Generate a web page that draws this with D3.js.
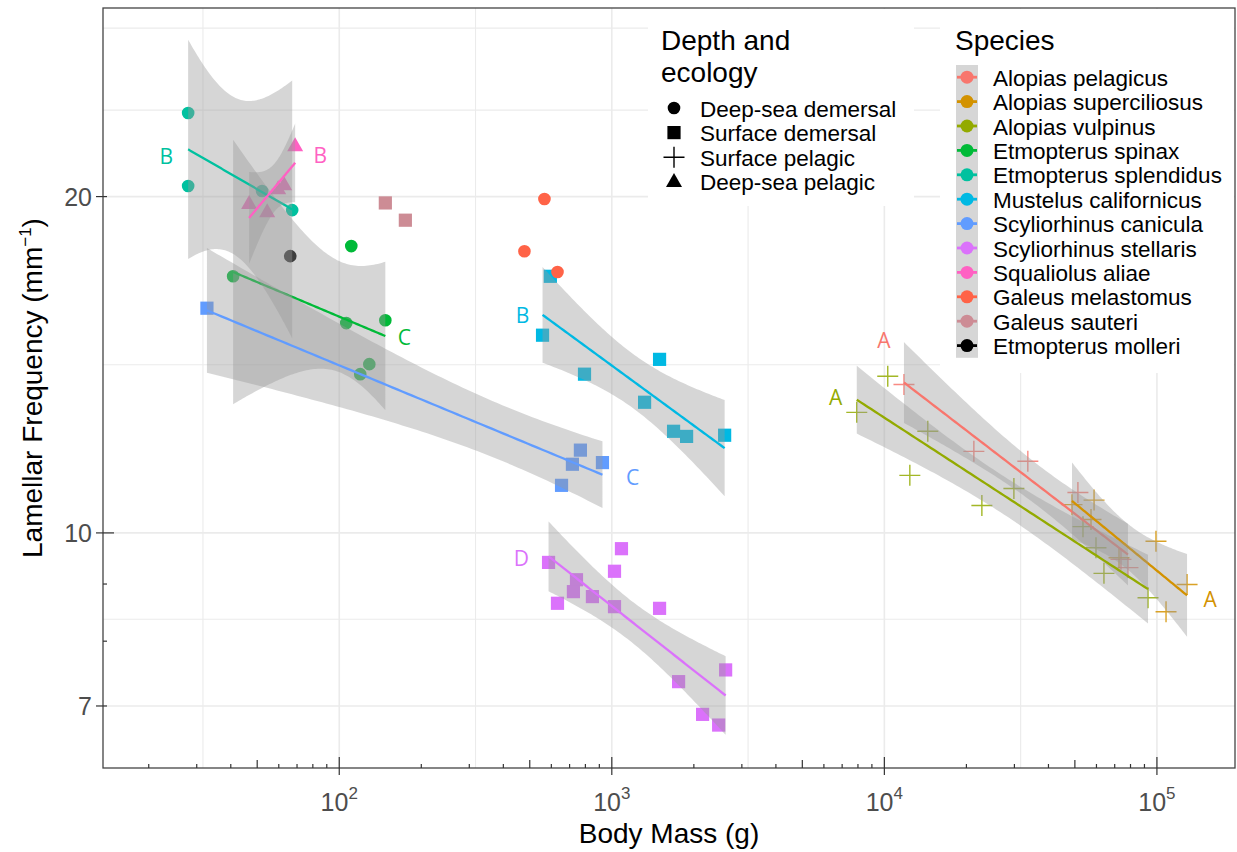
<!DOCTYPE html>
<html><head><meta charset="utf-8">
<script src="https://cdn.jsdelivr.net/npm/d3@7"></script>
<style>body{margin:0;background:#fff}</style>
</head><body><svg id="c" width="1237" height="852"></svg>
<script>
// ---------------- DATA ----------------
const speciesNames = ["Alopias pelagicus","Alopias superciliosus","Alopias vulpinus","Etmopterus spinax","Etmopterus splendidus","Mustelus californicus","Scyliorhinus canicula","Scyliorhinus stellaris","Squaliolus aliae","Galeus melastomus","Galeus sauteri","Etmopterus molleri"];
const speciesColors = ["#F8766D","#D39200","#93AA00","#00BA38","#00C19F","#00B9E3","#619CFF","#DB72FB","#FF61C3","#FF6347","#CD8C95","#000000"];
const ecologyNames = ["Deep-sea demersal","Surface demersal","Surface pelagic","Deep-sea pelagic"];
const speciesEcology = ["Surface pelagic","Surface pelagic","Surface pelagic","Deep-sea demersal","Deep-sea demersal","Surface demersal","Surface demersal","Surface demersal","Deep-sea pelagic","Deep-sea demersal","Surface demersal","Deep-sea demersal"];

const pelagicusMass = [11800, 21300, 33600, 51300, 73800, 78300];
const pelagicusFreq = [13.58, 11.83, 11.59, 10.87, 9.47, 9.31];
const superciliosusMass = [48800, 58800, 57300, 72600, 99200, 108000, 129000];
const superciliosusFreq = [10.60, 10.70, 10.28, 9.50, 9.83, 8.50, 8.99];
const vulpinusMass = [7920, 10290, 12400, 14430, 22790, 29870, 53540, 59760, 63920, 92750];
const vulpinusFreq = [12.82, 13.81, 11.26, 12.33, 10.58, 10.96, 10.13, 9.70, 9.20, 8.75];
const spinaxMass = [40.8, 106.1, 147.6, 128.9, 119.4, 110.7];
const spinaxFreq = [16.97, 15.41, 15.50, 14.16, 13.87, 18.06];
const splendidusMass = [27.9, 27.9, 52.1, 67.2];
const splendidusFreq = [23.76, 20.44, 20.23, 19.45];
const mustelusMass = [595, 557, 794, 1497, 1319, 1685, 1881, 2594];
const mustelusFreq = [16.97, 15.03, 13.87, 14.30, 13.09, 12.33, 12.20, 12.23];
const caniculaMass = [32.7, 767, 717, 924, 654];
const caniculaFreq = [15.89, 11.86, 11.52, 11.56, 11.03];
const stellarisMass = [586, 632, 742, 723, 849, 1023, 1085, 1023, 1497, 1758, 2616, 2153, 2466];
const stellarisFreq = [9.41, 8.65, 9.08, 8.86, 8.77, 9.24, 9.68, 8.59, 8.56, 7.36, 7.54, 6.88, 6.73];
const aliaeMass = [46.7, 54.4, 59.7, 62.8, 68.9];
const aliaeFreq = [19.70, 19.37, 20.31, 20.48, 22.20];
const melastomusMass = [566, 478, 632];
const melastomusFreq = [19.90, 17.87, 17.12];
const sauteriMass = [147.6, 174.8];
const sauteriFreq = [19.74, 19.05];
const molleriMass = [66.1];
const molleriFreq = [17.69];

// fitted groups (species index), their letter labels and label positions (data units)
const fittedSpecies = [0,1,2,3,4,5,6,7,8];
const fitLetters = ["A","A","A","C","B","B","C","D","B"];
const letterMass = [9950, 156700, 6630, 173.3, 23.2, 470, 1191, 466, 85.2];
const letterFreq = [14.87, 8.72, 13.22, 14.97, 21.74, 15.66, 11.21, 9.49, 21.79];

const xTickValues = [100, 1000, 10000, 100000];
const xTickExponents = ["2","3","4","5"];
const yTickValues = [7, 10, 20];
const yTickLabels = ["7","10","20"];
const yMinorGrid = [8.37, 14.14, 23.9, 28.3];
const xMinorGrid = [31.62, 316.2, 3162, 31623];

const massBySpecies = [pelagicusMass, superciliosusMass, vulpinusMass, spinaxMass, splendidusMass, mustelusMass, caniculaMass, stellarisMass, aliaeMass, melastomusMass, sauteriMass, molleriMass];
const freqBySpecies = [pelagicusFreq, superciliosusFreq, vulpinusFreq, spinaxFreq, splendidusFreq, mustelusFreq, caniculaFreq, stellarisFreq, aliaeFreq, melastomusFreq, sauteriFreq, molleriFreq];

// ---------------- LAYOUT ----------------
const W = 1237, H = 852;
const P = {l:103, r:1235, t:8, b:768};
const x = d3.scaleLog().domain([13.59, 193400]).range([P.l, P.r]);
const y = d3.scaleLog().domain([6.16, 29.5]).range([P.b, P.t]);
const svg = d3.select("#c");
const FONT = "'Liberation Sans', Arial, sans-serif";
const BASE = 28, SMALL = 22.5, TICK = 25;

svg.append("rect").attr("width", W).attr("height", H).attr("fill", "#fff");
svg.append("defs").append("clipPath").attr("id","clip")
  .append("rect").attr("x",P.l).attr("y",P.t).attr("width",P.r-P.l).attr("height",P.b-P.t);

// grid
const grid = svg.append("g");
xMinorGrid.forEach(v => grid.append("line").attr("x1",x(v)).attr("x2",x(v)).attr("y1",P.t).attr("y2",P.b).attr("stroke","#EBEBEB").attr("stroke-width",1.1));
yMinorGrid.forEach(v => grid.append("line").attr("y1",y(v)).attr("y2",y(v)).attr("x1",P.l).attr("x2",P.r).attr("stroke","#EBEBEB").attr("stroke-width",1.1));
xTickValues.forEach(v => grid.append("line").attr("x1",x(v)).attr("x2",x(v)).attr("y1",P.t).attr("y2",P.b).attr("stroke","#EBEBEB").attr("stroke-width",1.6));
yTickValues.forEach(v => grid.append("line").attr("y1",y(v)).attr("y2",y(v)).attr("x1",P.l).attr("x2",P.r).attr("stroke","#EBEBEB").attr("stroke-width",1.6));

// legend white boxes over grid
svg.append("rect").attr("x",648).attr("y",P.t+1).attr("width",266).attr("height",197).attr("fill","#fff");
svg.append("rect").attr("x",940).attr("y",P.t+1).attr("width",P.r-940-1).attr("height",364).attr("fill","#fff");

// shapes
function shapePath(eco, s) {
  s = s || 1;
  if (eco === "Deep-sea demersal") return d3.symbol().type(d3.symbolCircle).size(Math.PI*40*s*s)();
  if (eco === "Surface demersal") { const h=6.6*s; return `M${-h},${-h}H${h}V${h}H${-h}Z`; }
  if (eco === "Deep-sea pelagic") return `M0,${-8.8*s}L${8*s},${5.2*s}L${-8*s},${5.2*s}Z`;
  const a = 10.5*s; return `M${-a},0H${a}M0,${-a}V${a}`;
}
function drawShape(g, eco, cx, cy, color, s) {
  const p = g.append("path").attr("d", shapePath(eco, s)).attr("transform", `translate(${cx},${cy})`);
  if (eco === "Surface pelagic") p.attr("fill","none").attr("stroke",color).attr("stroke-width",1.4).attr("stroke-opacity",0.85);
  else p.attr("fill",color);
  return p;
}

// points
const data = svg.append("g").attr("clip-path","url(#clip)");
const pts = data.append("g");
speciesNames.forEach((sp,i) => {
  massBySpecies[i].forEach((m,j) => drawShape(pts, speciesEcology[i], x(m), y(freqBySpecies[i][j]), speciesColors[i]));
});

// regression lines with 95% CI (log-log lm)
const tTable = [NaN,12.706,4.303,3.182,2.776,2.571,2.447,2.365,2.306,2.262,2.228,2.201,2.179,2.160];
function fitGroup(ms, fs) {
  const lx = ms.map(Math.log10), ly = fs.map(Math.log10), n = lx.length;
  const mx = d3.mean(lx), my = d3.mean(ly);
  let sxx=0, sxy=0; lx.forEach((v,k)=>{sxx+=(v-mx)**2; sxy+=(v-mx)*(ly[k]-my);});
  const b = sxy/sxx, a = my - b*mx;
  let sse=0; lx.forEach((v,k)=>{sse+=(ly[k]-(a+b*v))**2;});
  const s2 = sse/(n-2), t = tTable[n-2];
  const lo = d3.min(lx), hi = d3.max(lx);
  return d3.range(80).map(k => {
    const xv = lo + (hi-lo)*k/79, pr = a + b*xv;
    const se = Math.sqrt(s2*(1/n + (xv-mx)**2/sxx));
    return {m: 10**xv, f: 10**pr, lo: 10**(pr - t*se), hi: 10**(pr + t*se)};
  });
}
const smooth = data.append("g");
fittedSpecies.forEach(i => {
  const pr = fitGroup(massBySpecies[i], freqBySpecies[i]);
  smooth.append("path").datum(pr)
    .attr("d", d3.area().x(d=>x(d.m)).y0(d=>y(d.lo)).y1(d=>y(d.hi)))
    .attr("fill","#999999").attr("fill-opacity",0.4);
  smooth.append("path").datum(pr)
    .attr("d", d3.line().x(d=>x(d.m)).y(d=>y(d.f)))
    .attr("fill","none").attr("stroke",speciesColors[i]).attr("stroke-width",2.3);
});

// letter labels
fittedSpecies.forEach((i,k) => {
  svg.append("text").attr("x", x(letterMass[k])).attr("y", y(letterFreq[k]))
    .attr("text-anchor","middle").attr("dominant-baseline","central")
    .attr("font-family","'Open Sans', sans-serif").attr("font-size",21)
    .attr("fill", speciesColors[i]).text(fitLetters[k]);
});

// panel border
svg.append("rect").attr("x",P.l).attr("y",P.t).attr("width",P.r-P.l).attr("height",P.b-P.t)
  .attr("fill","none").attr("stroke","#444444").attr("stroke-width",1.3);

// axis ticks (outside) and log ticks (inside)
const ax = svg.append("g").attr("stroke","#333333").attr("stroke-width",1.2);
xTickValues.forEach(v => ax.append("line").attr("x1",x(v)).attr("x2",x(v)).attr("y1",P.b).attr("y2",P.b+7));
yTickValues.forEach(v => ax.append("line").attr("y1",y(v)).attr("y2",y(v)).attr("x1",P.l-7).attr("x2",P.l));
for (let d = 1; d <= 5; d++) for (let k = 1; k <= 9; k++) {
  const v = k * 10**d; if (v < x.domain()[0] || v > x.domain()[1]) continue;
  const len = k===1 ? 11 : (k===5 ? 8 : 4);
  ax.append("line").attr("x1",x(v)).attr("x2",x(v)).attr("y1",P.b).attr("y2",P.b-len);
}
for (let d = 0; d <= 1; d++) for (let k = 1; k <= 9; k++) {
  const v = k * 10**d; if (v < y.domain()[0] || v > y.domain()[1]) continue;
  const len = k===1 ? 11 : (k===5 ? 8 : 4);
  ax.append("line").attr("y1",y(v)).attr("y2",y(v)).attr("x1",P.l).attr("x2",P.l+len);
}

// tick labels
xTickValues.forEach((v,i) => {
  const t = svg.append("text").attr("x", x(v)).attr("y", 811).attr("text-anchor","middle")
    .attr("font-family",FONT).attr("font-size",TICK).attr("fill","#4D4D4D");
  t.append("tspan").text("10");
  t.append("tspan").attr("dy",-12).attr("font-size",17).text(xTickExponents[i]);
});
yTickValues.forEach((v,i) => {
  svg.append("text").attr("x", 92).attr("y", y(v)).attr("dominant-baseline","central").attr("text-anchor","end")
    .attr("font-family",FONT).attr("font-size",TICK).attr("fill","#4D4D4D").text(yTickLabels[i]);
});

// axis titles
svg.append("text").attr("x",(P.l+P.r)/2).attr("y",843).attr("text-anchor","middle")
  .attr("font-family",FONT).attr("font-size",BASE).attr("fill","#000").text("Body Mass (g)");
const yt = svg.append("text").attr("transform",`translate(42,${(P.t+P.b)/2}) rotate(-90)`).attr("text-anchor","middle")
  .attr("font-family",FONT).attr("font-size",BASE).attr("fill","#000");
yt.append("tspan").text("Lamellar Frequency (mm");
yt.append("tspan").attr("dy",-11).attr("font-size",17).text("−1");
yt.append("tspan").attr("dy",11).text(")");

// legend 1: Depth and ecology
const lg1 = svg.append("g").attr("font-family",FONT);
lg1.append("text").attr("x",661).attr("y",50).attr("font-size",BASE).text("Depth and");
lg1.append("text").attr("x",661).attr("y",82).attr("font-size",BASE).text("ecology");
ecologyNames.forEach((e,i) => {
  const cy = 108 + i*24.6;
  drawShape(lg1, e, 674, cy, "#000").attr("stroke-opacity",1);
  lg1.append("text").attr("x",700).attr("y",cy+1).attr("dominant-baseline","central").attr("font-size",SMALL).text(e);
});

// legend 2: Species
const lg2 = svg.append("g").attr("font-family",FONT);
lg2.append("text").attr("x",955).attr("y",50).attr("font-size",BASE).text("Species");
const keyTop = 65, keyH = 24.4;
lg2.append("rect").attr("x",956).attr("y",keyTop).attr("width",22).attr("height",keyH*speciesNames.length).attr("fill","#D6D6D6");
speciesNames.forEach((s,i) => {
  const cy = keyTop + keyH*(i+0.5);
  lg2.append("line").attr("x1",957).attr("x2",977).attr("y1",cy).attr("y2",cy).attr("stroke",speciesColors[i]).attr("stroke-width",2.8);
  lg2.append("circle").attr("cx",967).attr("cy",cy).attr("r",6.5).attr("fill",speciesColors[i]);
  lg2.append("text").attr("x",993).attr("y",cy+1).attr("dominant-baseline","central").attr("font-size",SMALL).text(s);
});
</script>
</body></html>
